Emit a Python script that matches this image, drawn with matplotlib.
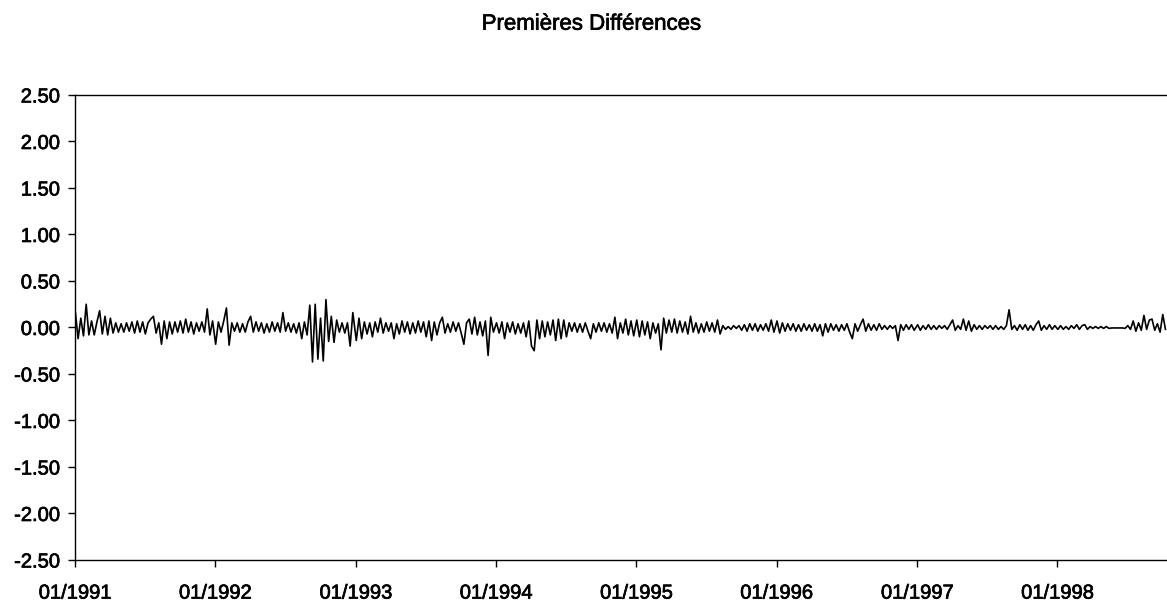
import matplotlib
matplotlib.use("Agg")
import matplotlib.pyplot as plt
import matplotlib.dates as mdates
import matplotlib.patheffects as pe
import numpy as np
import pandas as pd

# weekly first differences, one list per year
d1991 = [0.16, -0.12, 0.10, -0.09, 0.25, -0.08, 0.07, -0.08, 0.06, 0.18,
         -0.07, 0.12, -0.08, 0.10, -0.06, 0.05, -0.05, 0.04, -0.05, 0.05,
         -0.04, 0.06, -0.06, 0.07, -0.05, 0.06, -0.07, 0.05, 0.09, 0.12,
         -0.06, 0.05, -0.18, 0.07, -0.12, 0.06, -0.07, 0.06, -0.05, 0.07,
         -0.06, 0.09, -0.05, 0.06, -0.07, 0.05, -0.04, 0.06, -0.05, 0.20,
         -0.08, 0.07]
d1992 = [-0.18, 0.06, -0.05, 0.07, 0.21, -0.19, 0.05, -0.04, 0.05, -0.05,
         0.04, -0.05, 0.06, 0.12, -0.05, 0.06, -0.04, 0.05, -0.06, 0.04,
         -0.05, 0.06, -0.04, 0.05, -0.05, 0.16, -0.04, 0.05, -0.05, 0.04,
         -0.06, 0.05, -0.12, 0.06, -0.08, 0.24, -0.37, 0.25, -0.34, 0.10,
         -0.36, 0.30, -0.15, 0.12, -0.16, 0.08, -0.05, 0.05, -0.06, 0.05,
         -0.20, 0.16]
d1993 = [-0.14, 0.10, -0.12, 0.06, -0.07, 0.05, -0.10, 0.06, -0.05, 0.10,
         -0.06, 0.05, -0.04, 0.05, -0.12, 0.04, -0.07, 0.07, -0.05, 0.06,
         -0.07, 0.05, -0.06, 0.07, -0.05, 0.06, -0.10, 0.07, -0.14, 0.06,
         -0.08, 0.05, 0.11, -0.06, 0.04, -0.05, 0.06, -0.04, 0.05, -0.06,
         -0.18, 0.05, 0.09, -0.07, 0.11, -0.08, 0.06, -0.09, 0.07, -0.30,
         0.11, -0.05]
d1994 = [0.05, -0.06, 0.06, -0.12, 0.05, -0.05, 0.06, -0.07, 0.04, -0.06,
         0.05, -0.10, 0.07, -0.20, -0.25, 0.08, -0.12, 0.07, -0.10, 0.06,
         -0.08, 0.08, -0.14, 0.09, -0.12, 0.08, -0.10, 0.05, -0.04, 0.05,
         -0.05, 0.04, -0.05, 0.05, -0.04, -0.12, 0.04, -0.05, 0.05, -0.04,
         0.05, -0.05, 0.04, -0.06, 0.11, -0.12, 0.05, -0.06, 0.09, -0.08,
         0.07, -0.09]
d1995 = [0.08, -0.10, 0.07, -0.08, 0.06, -0.12, 0.05, -0.06, 0.04, -0.24,
         0.10, -0.06, 0.08, -0.05, 0.09, -0.06, 0.07, -0.05, 0.06, -0.07,
         0.12, -0.05, 0.05, -0.06, 0.04, -0.05, 0.06, -0.04, 0.05, -0.05,
         0.08, -0.07, 0.02, -0.02, 0.01, -0.02, 0.02, -0.01, 0.02, -0.03,
         0.03, -0.04, 0.04, -0.03, 0.04, -0.04, 0.03, -0.03, 0.04, -0.04,
         0.08, -0.05]
d1996 = [0.07, -0.06, 0.05, -0.04, 0.04, -0.03, 0.04, -0.04, 0.03, -0.04,
         0.04, -0.03, 0.03, -0.04, 0.04, -0.04, 0.03, -0.09, 0.04, -0.05,
         0.04, -0.03, 0.03, -0.04, 0.03, -0.03, 0.04, -0.05, -0.12, 0.04,
         -0.04, 0.03, 0.09, -0.04, 0.04, -0.03, 0.03, -0.03, 0.04, -0.02,
         0.02, -0.02, 0.02, -0.01, 0.02, -0.14, 0.03, -0.03, 0.03, -0.02,
         0.03, -0.03]
d1997 = [0.03, -0.03, 0.02, -0.02, 0.03, -0.02, 0.02, -0.02, 0.02, -0.01,
         0.02, -0.02, 0.03, 0.08, -0.03, 0.02, -0.02, 0.09, -0.03, 0.07,
         -0.04, 0.03, -0.02, 0.02, -0.02, 0.02, -0.01, 0.02, -0.02, 0.02,
         -0.02, 0.01, -0.02, 0.02, 0.19, -0.02, 0.02, -0.03, 0.03, -0.02,
         0.03, -0.03, 0.02, -0.03, 0.03, 0.07, -0.03, 0.02, -0.02, 0.03,
         -0.02, 0.02]
d1998 = [-0.02, 0.02, -0.02, 0.01, -0.02, 0.02, -0.01, 0.03, -0.02, 0.02,
         0.03, -0.02, 0.01, -0.01, 0.01, -0.01, 0.01, -0.01, 0.01, -0.01,
         -0.005, -0.005, -0.005, -0.005, -0.005, -0.01, 0.02, -0.02, 0.07, -0.04,
         0.05, -0.03, 0.13, -0.02, 0.08, 0.09, -0.03, 0.04, -0.05, 0.14,
         -0.02]

years = [1991, 1992, 1993, 1994, 1995, 1996, 1997, 1998]
yearly = [d1991, d1992, d1993, d1994, d1995, d1996, d1997, d1998]

dates = []
values = []
for yr, vals in zip(years, yearly):
    dates.extend(pd.date_range(f"{yr}-01-02", periods=len(vals), freq="7D"))
    values.extend(vals)

plt.rcParams["font.family"] = ["Liberation Sans", "DejaVu Sans"]
plt.rcParams["axes.unicode_minus"] = False

fig = plt.figure(figsize=(11.67, 6.05), dpi=100)
ax = fig.add_axes([0.0643, 0.0744, 0.9357, 0.7686])

ax.plot(dates, values, color="black", linewidth=1.2)

ax.set_ylim(-2.5, 2.5)
ax.set_yticks(np.arange(-2.5, 2.51, 0.5))
ax.yaxis.set_major_formatter(plt.FormatStrFormatter("%.2f"))

ax.set_xlim(pd.Timestamp("1991-01-01"), pd.Timestamp("1998-10-13"))
ax.set_xticks([pd.Timestamp(f"{y}-01-01") for y in years])
ax.xaxis.set_major_formatter(mdates.DateFormatter("%m/%Y"))

for s in ["left", "top", "bottom"]:
    ax.spines[s].set_linewidth(1.0)
ax.spines["right"].set_visible(False)

ax.tick_params(axis="y", length=5, width=1, pad=6, labelsize=14.5)
ax.tick_params(axis="x", length=5, width=1, pad=12, labelsize=14.5)

# scanned original has slightly heavier glyphs
heavy = [pe.withStroke(linewidth=0.5, foreground="black")]
for lbl in ax.get_xticklabels() + ax.get_yticklabels():
    lbl.set_path_effects(heavy)

fig.text(0.507, 0.96, "Premières Différences", ha="center", va="center",
         fontsize=16, path_effects=heavy)

fig.savefig("out.png", dpi=100)
